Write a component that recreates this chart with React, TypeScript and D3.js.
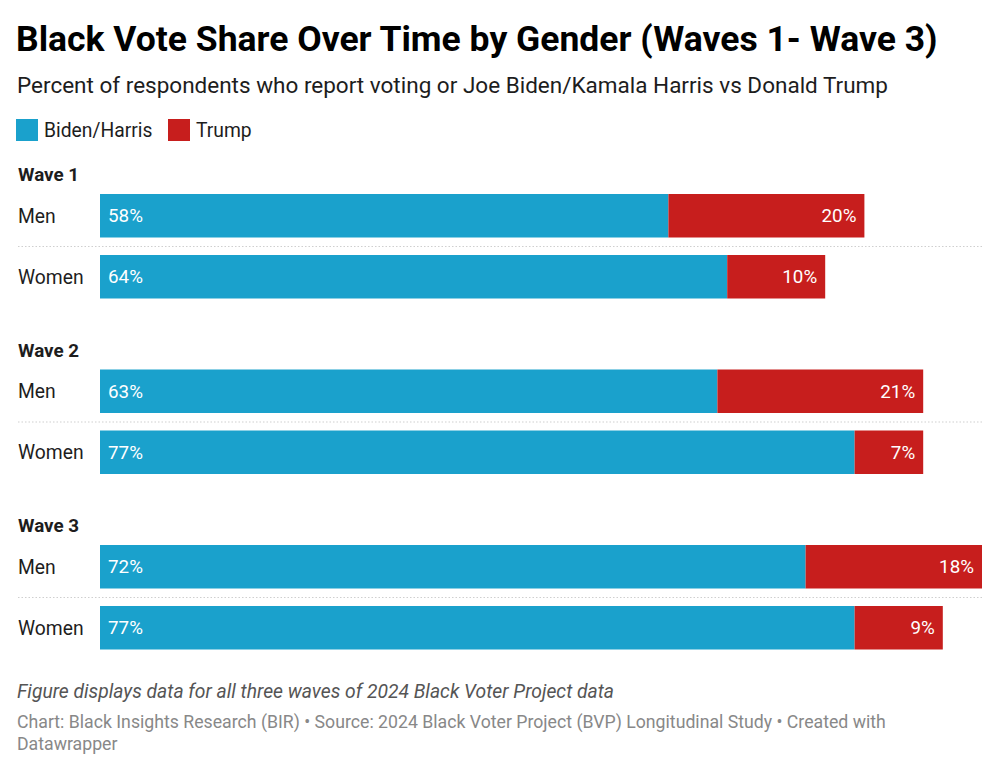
import React from "react";
import * as d3 from "d3";

const waves = ["Wave 1", "Wave 2", "Wave 3"];
const genders = ["Men", "Women"];
const bidenHarris = [58, 64, 63, 77, 72, 77];
const trump = [20, 10, 21, 7, 18, 9];
const seriesNames = ["Biden/Harris", "Trump"];
const colors = ["#1aa1cc", "#c71e1d"];

export default function App() {
  const W = 1000, H = 773;
  const x = d3.scaleLinear().domain([0, 100]).range([100, 1080]);
  const waveY = d3.scaleLinear().domain([0, 2]).range([194, 545]);
  const rowOffset = 61;
  const barH = 43.5;
  const font = "Roboto, sans-serif";

  const rows = waves.flatMap((w, wi) =>
    genders.map((g, gi) => ({ wave: w, wi, gender: g, gi, idx: wi * 2 + gi }))
  );

  return (
    <svg width={W} height={H} style={{ position: "absolute", left: 0, top: 0, background: "#fff" }} fontFamily={font}>
      <text x={16} y={51} fontSize={35.5} fontWeight={700} fill="#000">Black Vote Share Over Time by Gender (Waves 1- Wave 3)</text>
      <text x={17} y={93} fontSize={22.5} fill="#1d1d1d">Percent of respondents who report voting or Joe Biden/Kamala Harris vs Donald Trump</text>
      {seriesNames.map((s, i) => {
        const lx = i === 0 ? 16 : 168;
        return (
          <g key={s}>
            <rect x={lx} y={119} width={22} height={22} fill={colors[i]} />
            <text x={lx + 28} y={136.5} fontSize={19.3} fill="#1d1d1d">{s}</text>
          </g>
        );
      })}
      {waves.map((w, wi) => (
        <text key={w} x={18} y={waveY(wi) - 13} fontSize={18.8} fontWeight={700} fill="#1d1d1d">{w}</text>
      ))}
      {rows.map((r) => {
        const y0 = waveY(r.wi) + r.gi * rowOffset;
        const b = bidenHarris[r.idx];
        const t = trump[r.idx];
        return (
          <g key={r.idx}>
            <text x={18} y={y0 + barH / 2 + 7} fontSize={19.3} fill="#1d1d1d">{r.gender}</text>
            <rect x={x(0)} y={y0} width={x(b) - x(0)} height={barH} fill={colors[0]} />
            <rect x={x(b)} y={y0} width={x(b + t) - x(b)} height={barH} fill={colors[1]} />
            <text x={x(0) + 8} y={y0 + barH / 2 + 6.5} fontSize={18.8} fill="#fff">{b}%</text>
            <text x={x(b + t) - 8} y={y0 + barH / 2 + 6.5} fontSize={18.8} fill="#fff" textAnchor="end">{t}%</text>
            {r.gi === 0 && (
              <line x1={18} x2={982} y1={y0 + barH + 9} y2={y0 + barH + 9} stroke="#cfcfcf" strokeWidth={1} strokeDasharray="1.5,2" />
            )}
          </g>
        );
      })}
      <text x={17} y={698} fontSize={19.3} fontStyle="italic" fill="#555">Figure displays data for all three waves of 2024 Black Voter Project data</text>
      <text x={17} y={728} fontSize={17.7} fill="#888">Chart: Black Insights Research (BIR) • Source: 2024 Black Voter Project (BVP) Longitudinal Study • Created with</text>
      <text x={17} y={750} fontSize={17.7} fill="#888">Datawrapper</text>
    </svg>
  );
}
